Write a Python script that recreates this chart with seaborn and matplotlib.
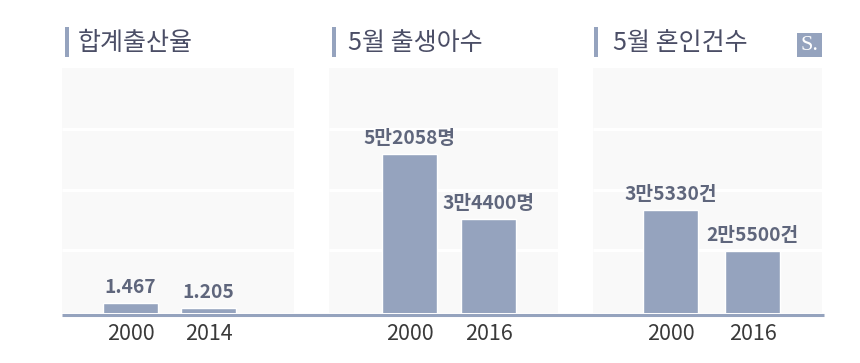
import matplotlib
matplotlib.use("Agg")
import matplotlib.pyplot as plt
import seaborn as sns
import pandas as pd
from matplotlib.lines import Line2D
from matplotlib.patches import Rectangle

# ---- data ----
titles = ["합계출산율", "5월 출생아수", "5월 혼인건수"]
years1 = ["2000", "2014"]
values1 = [1.467, 1.205]
labels1 = ["1.467", "1.205"]
years2 = ["2000", "2016"]
values2 = [52058, 34400]
labels2 = ["5만2058명", "3만4400명"]
years3 = ["2000", "2016"]
values3 = [35330, 25500]
labels3 = ["3만5330건", "2만5500건"]

sns.set_theme(style="white")
plt.rcParams["font.family"] = ["Noto Sans CJK KR", "DejaVu Sans"]

BAR = "#95a3be"
BG = "#f9f9f9"
TITLE_C = "#4b4e66"
VAL_C = "#5f667c"
TICK_C = "#3a3a3a"

W, H = 860, 363
fig = plt.figure(figsize=(W / 100, H / 100), dpi=100, facecolor="white")

panels = [
    dict(years=years1, values=values1, labels=labels1, x0=62, x1=294,
         width=0.705, xlim=(-0.878, 2.096), ylim=(0.926, 14.6),
         title_x=78, mark_x=65),
    dict(years=years2, values=values2, labels=labels2, x0=329, x1=558,
         width=0.696, xlim=(-1.019, 1.880), ylim=(8863, 75421),
         title_x=348, mark_x=332),
    dict(years=years3, values=values3, labels=labels3, x0=593, x1=822,
         width=0.67, xlim=(-0.945, 1.848), ylim=(10636, 69375),
         title_x=613, mark_x=594),
]

top_px, base_px = 68, 313
for p, title in zip(panels, titles):
    ax = fig.add_axes([p["x0"] / W, (H - base_px) / H,
                       (p["x1"] - p["x0"]) / W, (base_px - top_px) / H])
    ax.set_facecolor(BG)
    df = pd.DataFrame({"year": p["years"], "value": p["values"]})
    sns.barplot(data=df, x="year", y="value", order=p["years"], color=BAR,
                saturation=1, width=p["width"], ax=ax, zorder=3)
    ax.set_xlim(*p["xlim"])
    ax.set_ylim(*p["ylim"])
    for f in (0.259, 0.504, 0.749):
        ax.plot([0, 1], [f, f], transform=ax.transAxes, color="white",
                lw=2.3, zorder=1, solid_capstyle="butt")
    for i, (v, lab) in enumerate(zip(p["values"], p["labels"])):
        ax.annotate(lab, (i, v), xytext=(0, 6), textcoords="offset pixels",
                    ha="center", va="bottom", fontsize=13.8, fontweight="bold",
                    color=VAL_C)
    for s in ax.spines.values():
        s.set_visible(False)
    ax.set_xlabel("")
    ax.set_ylabel("")
    ax.set_yticks([])
    ax.tick_params(axis="x", length=0, pad=7, labelsize=15.5, labelcolor=TICK_C)

    fig.add_artist(Rectangle((p["mark_x"] / W, (H - 57) / H), 4 / W, 30 / H,
                             transform=fig.transFigure, color=BAR, lw=0))
    fig.text(p["title_x"] / W, (H - 43) / H, title, ha="left", va="center",
             fontsize=18, color=TITLE_C)

fig.add_artist(Line2D([62 / W, 824 / W], [(H - 314.5) / H] * 2,
                      transform=fig.transFigure, color=BAR, lw=2.2,
                      solid_capstyle="butt"))

fig.add_artist(Rectangle((797 / W, (H - 57) / H), 25 / W, 24 / H,
                         transform=fig.transFigure, color=BAR, lw=0))
fig.text(809.5 / W, (H - 45.5) / H, "S.", ha="center", va="center",
         fontsize=16, color="white", family=["Liberation Serif", "DejaVu Serif"])

fig.savefig("out.png", dpi=100, facecolor="white")
